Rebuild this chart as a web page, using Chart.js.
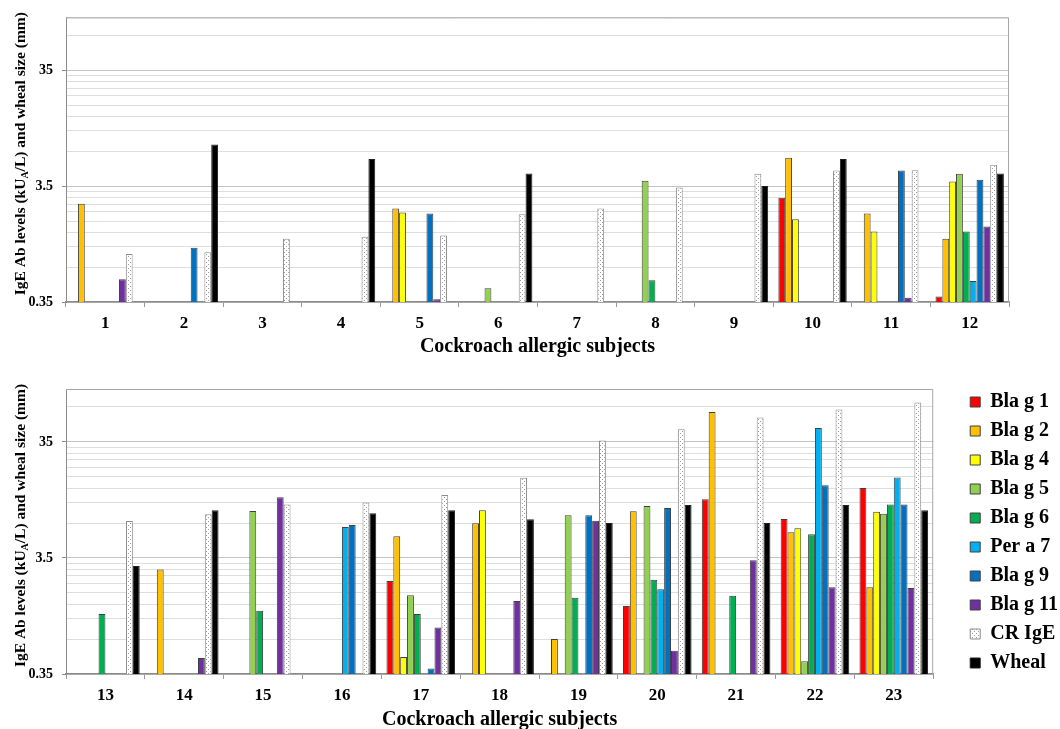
<!DOCTYPE html>
<html>
<head>
<meta charset="utf-8">
<script src="https://cdn.jsdelivr.net/npm/chart.js@4.4.1/dist/chart.umd.min.js"></script>
<style>
  html, body { margin: 0; padding: 0; background: #fff; }
  canvas { display: block; position: absolute; left: 0; }
  #top { top: 0; }
  #bottom { top: 365px; }
</style>
</head>
<body>
<canvas id="top" width="1060" height="365"></canvas>
<canvas id="bottom" width="1060" height="364"></canvas>
<script>
(function(){
var n = null;

// subjects 1-12 go in the top panel, 13-23 in the bottom one
var subjectsTop = ['1','2','3','4','5','6','7','8','9','10','11','12'];
var subjectsBottom = ['13','14','15','16','17','18','19','20','21','22','23'];

var seriesNames = ['Bla g 1','Bla g 2','Bla g 4','Bla g 5','Bla g 6','Per a 7','Bla g 9','Bla g 11','CR IgE','Wheal'];

var blaG1  = [n,n,n,n,n,n,n,n,n,2.78,n,0.39,  n,n,n,n,2.22,n,n,1.35,11.2,7.57,14.0];
var blaG2  = [2.47,n,n,n,2.24,n,n,n,n,6.14,2.03,1.23,  n,2.78,n,n,5.38,6.96,0.70,8.83,63.4,5.83,1.96];
var blaG4  = [n,n,n,n,2.07,n,n,n,n,1.81,1.42,3.84,  n,n,n,n,0.49,9.0,n,n,n,6.3,8.75];
var blaG5  = [n,n,n,n,n,0.46,n,3.89,n,n,n,4.47,  n,n,8.88,n,1.67,n,8.15,9.8,n,0.45,8.42];
var blaG6  = [n,n,n,n,n,n,n,0.54,n,n,n,1.42,  1.15,n,1.23,n,1.15,n,1.59,2.27,1.65,5.6,10.1];
var perA7  = [n,n,n,n,n,n,n,n,n,n,n,0.53,  n,n,n,6.47,n,n,n,1.88,n,46.2,17.3];
var blaG9  = [n,1.03,n,n,2.03,n,n,n,n,n,4.78,3.97,  n,n,n,6.73,0.39,n,8.15,9.42,n,14.8,10.1];
var blaG11 = [0.55,n,n,n,0.37,n,n,n,n,n,0.38,1.57,  n,0.48,11.7,n,0.88,1.49,7.33,0.555,3.34,1.96,1.93];
var crIgE  = [0.91,0.94,1.23,1.28,1.31,2.0,2.24,3.41,4.47,4.78,4.8,5.35,  7.28,8.32,10.1,10.5,12.2,17.2,36,45,56.7,66.5,76.4];
var wheal  = [n,8.0,n,6.0,n,4.5,n,n,3.5,6.0,n,4.5,  2.99,9.0,n,8.48,9.0,7.53,7.0,10.0,7.0,10.0,9.0];

var allSeries = [blaG1, blaG2, blaG4, blaG5, blaG6, perA7, blaG9, blaG11, crIgE, wheal];

// log axis: gridlines at every multiple of 0.35 per decade, labels only at decades
var yTicks = [0.35,0.7,1.05,1.4,1.75,2.1,2.45,2.8,3.15,3.5,7,10.5,14,17.5,21,24.5,28,31.5,35,70,100];
var yLabels = [0.35,3.5,35];

var serif = "'Liberation Serif', 'Times New Roman', serif";
Chart.defaults.font.family = serif;
Chart.defaults.color = '#000';

// dotted fill for CR IgE
function dotPattern(){
  var c = document.createElement('canvas');
  c.width = 4; c.height = 4;
  var g = c.getContext('2d');
  g.fillStyle = '#fff'; g.fillRect(0,0,4,4);
  g.fillStyle = '#9a9a9a';
  g.fillRect(0,0,1,1); g.fillRect(2,2,1,1);
  return g.createPattern(c, 'repeat');
}
var fills = ['#ff0000','#ffc000','#ffff00','#92d050','#00b050','#00b0f0','#0070c0','#7030a0', dotPattern(), '#000000'];
var borders = ['#404040','#404040','#404040','#404040','#404040','#404040','#404040','#404040','#8c8c8c','#202020'];

var plotFrame = {
  id: 'plotFrame',
  beforeDatasetsDraw: function(chart){
    var a = chart.chartArea, ctx = chart.ctx;
    ctx.save();
    ctx.strokeStyle = '#a6a6a6';
    ctx.lineWidth = 1;
    ctx.beginPath();
    ctx.moveTo(a.left, a.top + 0.5);
    ctx.lineTo(a.right - 0.5, a.top + 0.5);
    ctx.lineTo(a.right - 0.5, a.bottom);
    ctx.stroke();
    ctx.restore();
  }
};

// y title with subscript A
var yTitle = {
  id: 'yTitle',
  afterDraw: function(chart){
    var a = chart.chartArea, ctx = chart.ctx;
    var big = 'bold 15.5px ' + serif, small = 'bold 10px ' + serif;
    var p1 = 'IgE Ab levels (kU', p2 = 'A', p3 = '/L) and wheal size (mm)';
    ctx.save();
    ctx.font = big;
    var w1 = ctx.measureText(p1).width, w3 = ctx.measureText(p3).width;
    ctx.font = small;
    var w2 = ctx.measureText(p2).width;
    var total = w1 + w2 + w3;
    ctx.translate(21, (a.top + a.bottom) / 2 - 6);
    ctx.rotate(-Math.PI / 2);
    ctx.fillStyle = '#000';
    ctx.textBaseline = 'middle';
    ctx.textAlign = 'left';
    var x = -total / 2;
    ctx.font = big; ctx.fillText(p1, x, 0); x += w1;
    ctx.font = small; ctx.fillText(p2, x, 4); x += w2;
    ctx.font = big; ctx.fillText(p3, x, 0);
    ctx.restore();
  }
};

function makeChart(id, labels, from, to, opt){
  var datasets = seriesNames.map(function(name, i){
    return {
      label: name,
      data: allSeries[i].slice(from, to),
      backgroundColor: fills[i],
      borderColor: borders[i],
      borderWidth: 1,
      borderSkipped: 'start',
      categoryPercentage: 0.87,
      barPercentage: 1
    };
  });

  var scales = {
    x: {
      grid: { offset: true, drawOnChartArea: false, drawTicks: true, tickLength: 5, color: '#999' },
      border: { color: '#8c8c8c', width: 1.5 },
      ticks: { font: { size: 17, weight: 'bold' }, color: '#000', padding: 6, autoSkip: false, maxRotation: 0 },
      title: { display: true, text: 'Cockroach allergic subjects', font: { size: 20, weight: 'bold' }, color: '#000',
               padding: { top: 0, bottom: opt.titlePad } },
      afterFit: function(s){ s.height = opt.xHeight; }
    },
    y: {
      type: 'logarithmic',
      min: 0.35,
      max: 100,
      afterBuildTicks: function(s){ s.ticks = yTicks.map(function(v){ return { value: v }; }); },
      ticks: {
        autoSkip: false,
        padding: 9,
        font: { size: 14, weight: 'bold' },
        color: '#000',
        callback: function(v){ return yLabels.indexOf(v) >= 0 ? String(v) : ''; }
      },
      grid: {
        tickLength: 4,
        color: function(c){ return (c.tick && yLabels.indexOf(c.tick.value) >= 0) ? '#c4c4c4' : '#dedede'; },
        tickColor: function(c){ return (c.tick && yLabels.indexOf(c.tick.value) >= 0) ? '#8c8c8c' : 'rgba(0,0,0,0)'; }
      },
      border: { color: '#8c8c8c' },
      afterFit: function(s){ s.width = 66; }
    }
  };

  if (opt.legend){
    // spacers so the legend sits where it does in the figure
    scales.x2 = { type: 'category', axis: 'x', position: 'top', display: true,
      grid: { display: false }, ticks: { display: false }, border: { display: false },
      afterFit: function(s){ s.height = 6; } };
    scales.y2 = { type: 'linear', axis: 'y', position: 'right', display: true,
      grid: { display: false }, ticks: { display: false }, border: { display: false },
      afterFit: function(s){ s.width = opt.legendGap; } };
  }

  return new Chart(document.getElementById(id).getContext('2d'), {
    type: 'bar',
    data: { labels: labels, datasets: datasets },
    options: {
      responsive: false,
      animation: false,
      layout: { padding: { left: 0, top: opt.padTop, right: opt.padRight, bottom: 0 } },
      plugins: {
        legend: {
          display: opt.legend,
          position: 'right',
          align: 'start',
          labels: { font: { size: 20, weight: 'bold' }, color: '#000', boxWidth: 10, boxHeight: 10, padding: 9 }
        },
        tooltip: { enabled: false }
      },
      scales: scales
    },
    plugins: [plotFrame, yTitle]
  });
}

makeChart('top', subjectsTop, 0, 12, { padTop: 16, padRight: 51, xHeight: 63, titlePad: 6, legend: false });
makeChart('bottom', subjectsBottom, 12, 23, { padTop: 18, padRight: -8, xHeight: 55, titlePad: -3, legend: true, legendGap: 28 });

}());
</script>
</body>
</html>
